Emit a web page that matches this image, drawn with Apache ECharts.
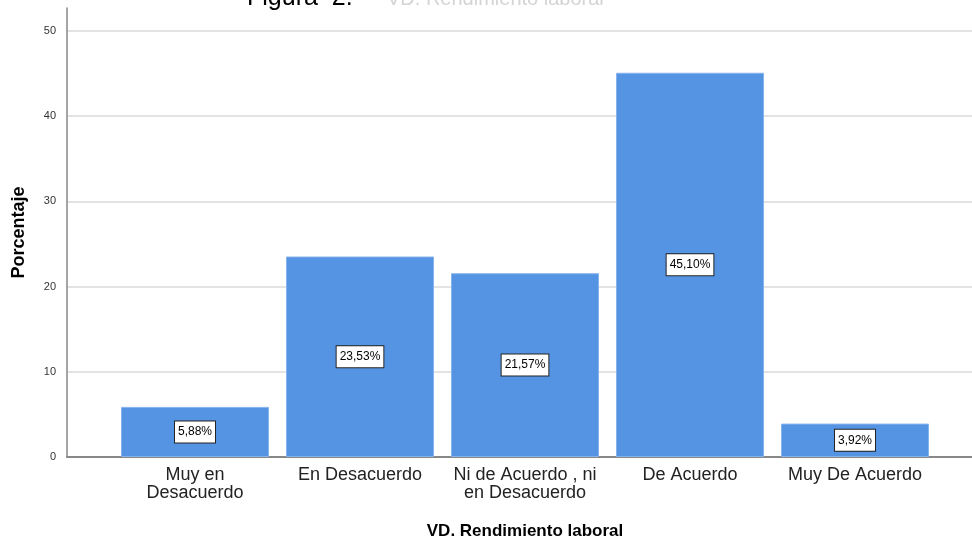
<!DOCTYPE html>
<html>
<head>
<meta charset="utf-8">
<script src="https://cdn.jsdelivr.net/npm/echarts@6/dist/echarts.min.js"></script>
<style>
  html, body { margin: 0; padding: 0; background: #fff; }
  #main { width: 972px; height: 541px; }
</style>
</head>
<body>
<div id="main"></div>
<script>
// datos del gráfico
var categorias = ['Muy en\nDesacuerdo', 'En Desacuerdo', 'Ni de Acuerdo , ni\nen Desacuerdo', 'De Acuerdo', 'Muy De Acuerdo']
var porcentajes = [5.88, 23.53, 21.57, 45.10, 3.92]
var ticksY = [0, 10, 20, 30, 40, 50]

var fuente = 'Liberation Sans, Arial, sans-serif'
var myChart = echarts.init(document.getElementById('main'))

myChart.setOption({
  animation: false,
  backgroundColor: '#fff',
  grid: [
    // 0: líneas de ejes (el eje Y sube un poco más que 50)
    { left: 67, right: 0, top: 8, bottom: 84, outerBoundsMode: 'none' },
    // 1: escala y líneas de guía
    { left: 67, right: 0, top: 31, bottom: 84, outerBoundsMode: 'none' },
    // 2: barras
    { left: 112.5, right: 34.5, top: 31, bottom: 84, outerBoundsMode: 'none' }
  ],
  graphic: [
    {
      type: 'text', left: 247, top: -14,
      style: { text: 'Figura  2.', font: '25px ' + fuente, fill: '#000' }
    },
    {
      type: 'text', left: 387, top: -11,
      style: { text: 'VD. Rendimiento laboral', font: '20px ' + fuente, fill: '#d4d4d4' }
    }
  ],
  xAxis: [
    {
      gridIndex: 0, type: 'value', min: 0, max: 1,
      axisLine: { show: true, onZero: false, lineStyle: { color: '#888', width: 2 } },
      axisTick: { show: false }, axisLabel: { show: false }, splitLine: { show: false }
    },
    {
      gridIndex: 1, type: 'value', min: 0, max: 1, show: false
    },
    {
      gridIndex: 2, type: 'category', data: categorias,
      name: 'VD. Rendimiento laboral', nameLocation: 'middle', nameGap: 66,
      nameTextStyle: { fontFamily: fuente, fontSize: 17, fontWeight: 'bold', color: '#000' },
      axisLine: { show: false }, axisTick: { show: false },
      axisLabel: {
        interval: 0, margin: 9, fontFamily: fuente, fontSize: 18, lineHeight: 18, color: '#222'
      }
    }
  ],
  yAxis: [
    {
      gridIndex: 0, type: 'value', min: 0, max: 50 * 449 / 426,
      name: 'Porcentaje', nameLocation: 'middle', nameRotate: 90, nameGap: 39,
      nameTextStyle: { fontFamily: fuente, fontSize: 18, fontWeight: 'bold', color: '#000' },
      axisLine: { show: true, lineStyle: { color: '#888', width: 1.5 } },
      axisTick: { show: false }, axisLabel: { show: false }, splitLine: { show: false }
    },
    {
      gridIndex: 1, type: 'value', min: ticksY[0], max: ticksY[ticksY.length - 1], interval: 10,
      axisLine: { show: false }, axisTick: { show: false },
      axisLabel: { margin: 11, fontFamily: fuente, fontSize: 11, color: '#333' },
      splitLine: { lineStyle: { color: '#dadada', width: 1.5 } }
    },
    {
      gridIndex: 2, type: 'value', min: 0, max: 50, show: false
    }
  ],
  series: [
    {
      type: 'bar', xAxisIndex: 2, yAxisIndex: 2,
      data: porcentajes,
      barWidth: 148,
      itemStyle: { color: '#5594e3', borderColor: '#86b3ee', borderWidth: 1 },
      label: {
        show: true, position: 'inside',
        formatter: function (p) { return p.value.toFixed(2).replace('.', ',') + '%' },
        fontFamily: fuente, fontSize: 12, lineHeight: 14, color: '#000',
        backgroundColor: '#fff', borderColor: '#222', borderWidth: 1,
        padding: [4, 3, 3, 3]
      }
    }
  ]
})
</script>
</body>
</html>
